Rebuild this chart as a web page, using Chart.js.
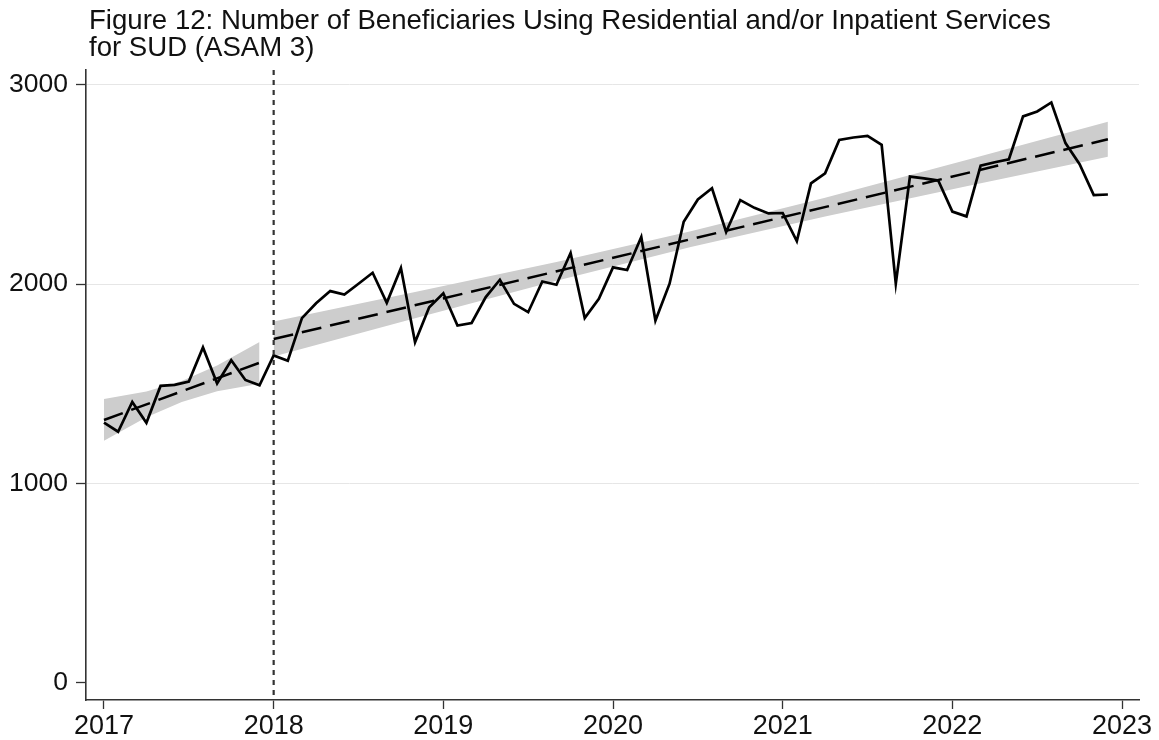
<!DOCTYPE html>
<html>
<head>
<meta charset="utf-8">
<script src="https://cdn.jsdelivr.net/npm/chart.js@4.4.1/dist/chart.umd.min.js"></script>
<style>
html,body{margin:0;padding:0;background:#fff;}
#wrap{position:relative;width:1159px;height:740px;}
</style>
</head>
<body>
<div id="wrap"><canvas id="c" width="1159" height="740"></canvas></div>
<script>
// ---- Data ----
const titleLines = ["Figure 12: Number of Beneficiaries Using Residential and/or Inpatient Services", "for SUD (ASAM 3)"];
const startYear = 2017;
const xTickLabels = [2017, 2018, 2019, 2020, 2021, 2022, 2023];
const yTickLabels = [0, 1000, 2000, 3000];
const interventionYear = 2018;

// Monthly beneficiaries, Jan 2017 - Dec 2022
const beneficiaries = [
  1305, 1259, 1408, 1304, 1489, 1494, 1511, 1682, 1501, 1618, 1519, 1492,
  1642, 1615, 1829, 1904, 1965, 1948, 2002, 2057, 1906, 2081, 1708, 1884,
  1954, 1792, 1805, 1935, 2022, 1901, 1859, 2013, 1997, 2156, 1830, 1926,
  2084, 2071, 2237, 1817, 2002, 2313, 2425, 2481, 2262, 2422, 2383, 2355,
  2357, 2216, 2506, 2556, 2724, 2736, 2744, 2699, 2002, 2540, 2531, 2520,
  2364, 2340, 2595, 2612, 2627, 2842, 2867, 2912, 2708, 2602, 2447, 2450
];

// Fitted trend (month index from Jan 2017) and confidence band
const preTrendMonths = [0, 11];
const preTrendValues = [1318, 1605];
const preBandMonths = [0, 3, 5.5, 8, 11];
const preBandLower = [1213, 1331, 1408, 1462, 1500];
const preBandUpper = [1423, 1461, 1514, 1592, 1710];

const postTrendMonths = [12, 71];
const postTrendValues = [1724, 2727];
const postBandMonths = [12, 22, 32, 41.5, 51, 61, 71];
const postBandLower = [1636, 1828, 2017, 2186, 2340, 2491, 2639];
const postBandUpper = [1812, 1960, 2111, 2266, 2434, 2623, 2815];

// ---- Helpers ----
const mx = m => startYear + m / 12;
const pts = (months, vals) => months.map((m, i) => ({x: mx(m), y: vals[i]}));

const FONT = "'Liberation Sans', Arial, Helvetica, sans-serif";
const BAND = '#cdcdcd';

const lineData = beneficiaries.map((v, i) => ({x: mx(i), y: v}));

const titlePlugin = {
  id: 'stataTitle',
  afterDraw(chart) {
    const ctx = chart.ctx;
    ctx.save();
    ctx.fillStyle = '#111';
    ctx.font = '27.6px ' + FONT;
    ctx.textAlign = 'left';
    ctx.textBaseline = 'alphabetic';
    ctx.fillText(titleLines[0], 89, 29);
    ctx.fillText(titleLines[1], 89, 56);
    ctx.restore();
  }
};

const vlinePlugin = {
  id: 'vline',
  afterDatasetsDraw(chart) {
    const {ctx, chartArea, scales} = chart;
    const x = scales.x.getPixelForValue(interventionYear);
    ctx.save();
    ctx.strokeStyle = '#333';
    ctx.lineWidth = 2.2;
    ctx.setLineDash([5, 5]);
    ctx.beginPath();
    ctx.moveTo(x, chartArea.top);
    ctx.lineTo(x, chartArea.bottom);
    ctx.stroke();
    ctx.restore();
  }
};

new Chart(document.getElementById('c'), {
  type: 'line',
  data: {
    datasets: [
      {data: lineData, borderColor: '#000', borderWidth: 2.7, pointRadius: 0, tension: 0, fill: false},
      {data: pts(preTrendMonths, preTrendValues), borderColor: '#000', borderWidth: 2.5, borderDash: [20, 9], pointRadius: 0, fill: false},
      {data: pts(postTrendMonths, postTrendValues), borderColor: '#000', borderWidth: 2.5, borderDash: [20, 9], pointRadius: 0, fill: false},
      {data: pts(preBandMonths, preBandUpper), borderColor: BAND, borderWidth: 0, pointRadius: 0, backgroundColor: BAND, fill: '+1'},
      {data: pts(preBandMonths, preBandLower), borderColor: BAND, borderWidth: 0, pointRadius: 0, fill: false},
      {data: pts(postBandMonths, postBandUpper), borderColor: BAND, borderWidth: 0, pointRadius: 0, backgroundColor: BAND, fill: '+1'},
      {data: pts(postBandMonths, postBandLower), borderColor: BAND, borderWidth: 0, pointRadius: 0, fill: false}
    ]
  },
  options: {
    responsive: false,
    animation: false,
    devicePixelRatio: 1,
    layout: {padding: {top: 70, right: 20, bottom: 0, left: 0}},
    plugins: {legend: {display: false}, tooltip: {enabled: false}, title: {display: false}},
    scales: {
      x: {
        type: 'linear',
        min: 2016.894,
        max: 2023.1,
        afterBuildTicks: s => { s.ticks = xTickLabels.map(v => ({value: v})); },
        afterFit: s => { s.height = 40; },
        ticks: {color: '#111', font: {family: FONT, size: 27}, padding: 1, maxRotation: 0, callback: v => String(v)},
        grid: {drawOnChartArea: false, drawTicks: true, tickLength: 9, tickColor: '#333', tickWidth: 1.3},
        border: {display: true, color: '#333', width: 1.6}
      },
      y: {
        type: 'linear',
        min: -88,
        max: 3075,
        afterBuildTicks: s => { s.ticks = yTickLabels.map(v => ({value: v})); },
        afterFit: s => { s.width = 86; },
        ticks: {color: '#111', font: {family: FONT, size: 26.5}, padding: 8, callback: v => String(v)},
        grid: {
          color: c => (c.tick && c.tick.value === 0) ? 'rgba(0,0,0,0)' : '#e6e6e6',
          lineWidth: 1,
          drawTicks: true, tickLength: 10, tickColor: '#333', tickWidth: 1.3
        },
        border: {display: true, color: '#333', width: 1.6}
      }
    }
  },
  plugins: [titlePlugin, vlinePlugin]
});
</script>
</body>
</html>
